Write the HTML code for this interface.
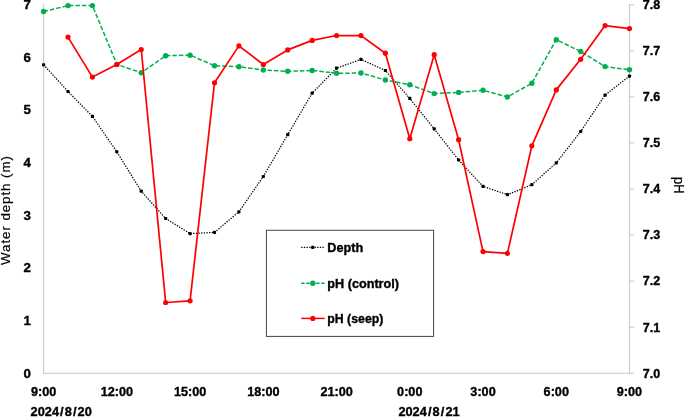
<!DOCTYPE html>
<html><head><meta charset="utf-8"><title>Chart</title>
<style>
html,body{margin:0;padding:0;background:#fff;}
body{width:685px;height:417px;position:relative;overflow:hidden;font-family:"Liberation Sans",sans-serif;}
</style></head><body>
<svg width="685" height="417" viewBox="0 0 685 417" style="position:absolute;left:0;top:0;will-change:transform">
<g stroke="#CACACA" stroke-width="1.1" fill="none">
<line x1="43.6" y1="4.3" x2="43.6" y2="373.8"/>
<line x1="43.1" y1="373.3" x2="630.0" y2="373.3"/>
<line x1="629.5" y1="4.3" x2="629.5" y2="373.8"/>
<line x1="629.5" y1="4.80" x2="634" y2="4.80"/>
<line x1="629.5" y1="50.86" x2="634" y2="50.86"/>
<line x1="629.5" y1="96.92" x2="634" y2="96.92"/>
<line x1="629.5" y1="142.99" x2="634" y2="142.99"/>
<line x1="629.5" y1="189.05" x2="634" y2="189.05"/>
<line x1="629.5" y1="235.11" x2="634" y2="235.11"/>
<line x1="629.5" y1="281.18" x2="634" y2="281.18"/>
<line x1="629.5" y1="327.24" x2="634" y2="327.24"/>
<line x1="629.5" y1="373.30" x2="634" y2="373.30"/>
</g>
<polyline points="43.60,64.80 68.01,91.50 92.42,116.40 116.84,151.80 141.25,191.20 165.66,218.50 190.07,233.60 214.49,232.40 238.90,211.80 263.31,176.50 287.72,134.70 312.14,93.20 336.55,68.20 360.96,59.40 385.38,70.50 409.79,98.40 434.20,128.90 458.61,160.00 483.02,186.40 507.44,194.70 531.85,184.70 556.26,162.90 580.67,131.50 605.09,95.10 629.50,76.10" fill="none" stroke="#000" stroke-width="1.25" stroke-dasharray="1.33 1.33"/>
<rect x="42.00" y="63.20" width="3.2" height="3.2" rx="0.8" fill="#000"/>
<rect x="66.41" y="89.90" width="3.2" height="3.2" rx="0.8" fill="#000"/>
<rect x="90.83" y="114.80" width="3.2" height="3.2" rx="0.8" fill="#000"/>
<rect x="115.24" y="150.20" width="3.2" height="3.2" rx="0.8" fill="#000"/>
<rect x="139.65" y="189.60" width="3.2" height="3.2" rx="0.8" fill="#000"/>
<rect x="164.06" y="216.90" width="3.2" height="3.2" rx="0.8" fill="#000"/>
<rect x="188.47" y="232.00" width="3.2" height="3.2" rx="0.8" fill="#000"/>
<rect x="212.89" y="230.80" width="3.2" height="3.2" rx="0.8" fill="#000"/>
<rect x="237.30" y="210.20" width="3.2" height="3.2" rx="0.8" fill="#000"/>
<rect x="261.71" y="174.90" width="3.2" height="3.2" rx="0.8" fill="#000"/>
<rect x="286.12" y="133.10" width="3.2" height="3.2" rx="0.8" fill="#000"/>
<rect x="310.54" y="91.60" width="3.2" height="3.2" rx="0.8" fill="#000"/>
<rect x="334.95" y="66.60" width="3.2" height="3.2" rx="0.8" fill="#000"/>
<rect x="359.36" y="57.80" width="3.2" height="3.2" rx="0.8" fill="#000"/>
<rect x="383.77" y="68.90" width="3.2" height="3.2" rx="0.8" fill="#000"/>
<rect x="408.19" y="96.80" width="3.2" height="3.2" rx="0.8" fill="#000"/>
<rect x="432.60" y="127.30" width="3.2" height="3.2" rx="0.8" fill="#000"/>
<rect x="457.01" y="158.40" width="3.2" height="3.2" rx="0.8" fill="#000"/>
<rect x="481.42" y="184.80" width="3.2" height="3.2" rx="0.8" fill="#000"/>
<rect x="505.84" y="193.10" width="3.2" height="3.2" rx="0.8" fill="#000"/>
<rect x="530.25" y="183.10" width="3.2" height="3.2" rx="0.8" fill="#000"/>
<rect x="554.66" y="161.30" width="3.2" height="3.2" rx="0.8" fill="#000"/>
<rect x="579.07" y="129.90" width="3.2" height="3.2" rx="0.8" fill="#000"/>
<rect x="603.49" y="93.50" width="3.2" height="3.2" rx="0.8" fill="#000"/>
<rect x="627.90" y="74.50" width="3.2" height="3.2" rx="0.8" fill="#000"/>
<polyline points="43.60,11.50 68.01,5.60 92.42,5.60 116.84,64.40 141.25,72.80 165.66,55.70 190.07,55.20 214.49,65.70 238.90,66.70 263.31,70.00 287.72,71.30 312.14,70.50 336.55,73.30 360.96,73.00 385.38,80.00 409.79,84.80 434.20,93.60 458.61,92.40 483.02,90.30 507.44,97.00 531.85,83.20 556.26,39.70 580.67,51.50 605.09,66.60 629.50,69.80" fill="none" stroke="#00B050" stroke-width="1.5" stroke-dasharray="4.5 2" stroke-linejoin="round"/>
<circle cx="43.60" cy="11.50" r="2.7" fill="#00B050"/>
<circle cx="68.01" cy="5.60" r="2.7" fill="#00B050"/>
<circle cx="92.42" cy="5.60" r="2.7" fill="#00B050"/>
<circle cx="116.84" cy="64.40" r="2.7" fill="#00B050"/>
<circle cx="141.25" cy="72.80" r="2.7" fill="#00B050"/>
<circle cx="165.66" cy="55.70" r="2.7" fill="#00B050"/>
<circle cx="190.07" cy="55.20" r="2.7" fill="#00B050"/>
<circle cx="214.49" cy="65.70" r="2.7" fill="#00B050"/>
<circle cx="238.90" cy="66.70" r="2.7" fill="#00B050"/>
<circle cx="263.31" cy="70.00" r="2.7" fill="#00B050"/>
<circle cx="287.72" cy="71.30" r="2.7" fill="#00B050"/>
<circle cx="312.14" cy="70.50" r="2.7" fill="#00B050"/>
<circle cx="336.55" cy="73.30" r="2.7" fill="#00B050"/>
<circle cx="360.96" cy="73.00" r="2.7" fill="#00B050"/>
<circle cx="385.38" cy="80.00" r="2.7" fill="#00B050"/>
<circle cx="409.79" cy="84.80" r="2.7" fill="#00B050"/>
<circle cx="434.20" cy="93.60" r="2.7" fill="#00B050"/>
<circle cx="458.61" cy="92.40" r="2.7" fill="#00B050"/>
<circle cx="483.02" cy="90.30" r="2.7" fill="#00B050"/>
<circle cx="507.44" cy="97.00" r="2.7" fill="#00B050"/>
<circle cx="531.85" cy="83.20" r="2.7" fill="#00B050"/>
<circle cx="556.26" cy="39.70" r="2.7" fill="#00B050"/>
<circle cx="580.67" cy="51.50" r="2.7" fill="#00B050"/>
<circle cx="605.09" cy="66.60" r="2.7" fill="#00B050"/>
<circle cx="629.50" cy="69.80" r="2.7" fill="#00B050"/>
<polyline points="68.01,37.10 92.42,77.10 116.84,64.50 141.25,49.50 165.66,302.50 190.07,300.80 214.49,82.80 238.90,45.90 263.31,64.50 287.72,49.90 312.14,40.40 336.55,35.50 360.96,35.60 385.38,53.20 409.79,138.70 434.20,54.70 458.61,139.70 483.02,251.60 507.44,253.40 531.85,145.80 556.26,89.90 580.67,59.30 605.09,25.60 629.50,28.60" fill="none" stroke="#FF0000" stroke-width="1.7" stroke-linejoin="round"/>
<circle cx="68.01" cy="37.10" r="2.6" fill="#FF0000"/>
<circle cx="92.42" cy="77.10" r="2.6" fill="#FF0000"/>
<circle cx="116.84" cy="64.50" r="2.6" fill="#FF0000"/>
<circle cx="141.25" cy="49.50" r="2.6" fill="#FF0000"/>
<circle cx="165.66" cy="302.50" r="2.6" fill="#FF0000"/>
<circle cx="190.07" cy="300.80" r="2.6" fill="#FF0000"/>
<circle cx="214.49" cy="82.80" r="2.6" fill="#FF0000"/>
<circle cx="238.90" cy="45.90" r="2.6" fill="#FF0000"/>
<circle cx="263.31" cy="64.50" r="2.6" fill="#FF0000"/>
<circle cx="287.72" cy="49.90" r="2.6" fill="#FF0000"/>
<circle cx="312.14" cy="40.40" r="2.6" fill="#FF0000"/>
<circle cx="336.55" cy="35.50" r="2.6" fill="#FF0000"/>
<circle cx="360.96" cy="35.60" r="2.6" fill="#FF0000"/>
<circle cx="385.38" cy="53.20" r="2.6" fill="#FF0000"/>
<circle cx="409.79" cy="138.70" r="2.6" fill="#FF0000"/>
<circle cx="434.20" cy="54.70" r="2.6" fill="#FF0000"/>
<circle cx="458.61" cy="139.70" r="2.6" fill="#FF0000"/>
<circle cx="483.02" cy="251.60" r="2.6" fill="#FF0000"/>
<circle cx="507.44" cy="253.40" r="2.6" fill="#FF0000"/>
<circle cx="531.85" cy="145.80" r="2.6" fill="#FF0000"/>
<circle cx="556.26" cy="89.90" r="2.6" fill="#FF0000"/>
<circle cx="580.67" cy="59.30" r="2.6" fill="#FF0000"/>
<circle cx="605.09" cy="25.60" r="2.6" fill="#FF0000"/>
<circle cx="629.50" cy="28.60" r="2.6" fill="#FF0000"/>
<rect x="266.4" y="230.25" width="167.2" height="106.15" fill="#fff" stroke="#444" stroke-width="1"/>
<line x1="301.2" y1="247.4" x2="324.2" y2="247.4" stroke="#000" stroke-width="1.33" stroke-dasharray="1.33 1.33"/>
<rect x="311.1" y="245.8" width="3.2" height="3.2" rx="0.8" fill="#000"/>
<line x1="301.2" y1="283.2" x2="324.7" y2="283.2" stroke="#00B050" stroke-width="1.4" stroke-dasharray="3.4 1.6"/>
<circle cx="312.8" cy="283.2" r="2.7" fill="#00B050"/>
<line x1="301.2" y1="318.4" x2="324.7" y2="318.4" stroke="#FF0000" stroke-width="1.5"/>
<circle cx="312.8" cy="318.4" r="2.6" fill="#FF0000"/>
<g font-family="'Liberation Sans', sans-serif" font-weight="bold" font-size="12.3px" fill="#000" stroke="#000" stroke-width="0.35">
<text transform="translate(327.30,251.70) scale(1.03,1)" text-anchor="start" >Depth</text>
<text transform="translate(327.30,287.50) scale(1.03,1)" text-anchor="start" >pH (control)</text>
<text transform="translate(327.30,322.60) scale(1.0,1)" text-anchor="start" >pH (seep)</text>
<text transform="translate(30.90,377.60) scale(1.08,1)" text-anchor="end" >0</text>
<text transform="translate(30.90,324.96) scale(1.08,1)" text-anchor="end" >1</text>
<text transform="translate(30.90,272.31) scale(1.08,1)" text-anchor="end" >2</text>
<text transform="translate(30.90,219.67) scale(1.08,1)" text-anchor="end" >3</text>
<text transform="translate(30.90,167.03) scale(1.08,1)" text-anchor="end" >4</text>
<text transform="translate(30.90,114.39) scale(1.08,1)" text-anchor="end" >5</text>
<text transform="translate(30.90,61.74) scale(1.08,1)" text-anchor="end" >6</text>
<text transform="translate(30.90,9.10) scale(1.08,1)" text-anchor="end" >7</text>
<text transform="translate(642.70,377.60) scale(1.02,1)" text-anchor="start" >7.0</text>
<text transform="translate(642.70,331.54) scale(1.02,1)" text-anchor="start" >7.1</text>
<text transform="translate(642.70,285.48) scale(1.02,1)" text-anchor="start" >7.2</text>
<text transform="translate(642.70,239.41) scale(1.02,1)" text-anchor="start" >7.3</text>
<text transform="translate(642.70,193.35) scale(1.02,1)" text-anchor="start" >7.4</text>
<text transform="translate(642.70,147.29) scale(1.02,1)" text-anchor="start" >7.5</text>
<text transform="translate(642.70,101.23) scale(1.02,1)" text-anchor="start" >7.6</text>
<text transform="translate(642.70,55.16) scale(1.02,1)" text-anchor="start" >7.7</text>
<text transform="translate(642.70,9.10) scale(1.02,1)" text-anchor="start" >7.8</text>
<text transform="translate(43.60,396.10) scale(1.03,1)" text-anchor="middle" >9:00</text>
<text transform="translate(116.84,396.10) scale(1.03,1)" text-anchor="middle" >12:00</text>
<text transform="translate(190.07,396.10) scale(1.03,1)" text-anchor="middle" >15:00</text>
<text transform="translate(263.31,396.10) scale(1.03,1)" text-anchor="middle" >18:00</text>
<text transform="translate(336.55,396.10) scale(1.03,1)" text-anchor="middle" >21:00</text>
<text transform="translate(409.79,396.10) scale(1.03,1)" text-anchor="middle" >0:00</text>
<text transform="translate(483.02,396.10) scale(1.03,1)" text-anchor="middle" >3:00</text>
<text transform="translate(556.26,396.10) scale(1.03,1)" text-anchor="middle" >6:00</text>
<text transform="translate(629.50,396.10) scale(1.03,1)" text-anchor="middle" >9:00</text>
<text transform="translate(30.60,415.60) scale(1.04,1)" text-anchor="start" >2024<tspan dx="1.05">/</tspan><tspan dx="1.05">8</tspan><tspan dx="1.05">/</tspan><tspan dx="1.05">20</tspan></text>
<text transform="translate(398.40,415.60) scale(1.04,1)" text-anchor="start" >2024<tspan dx="1.05">/</tspan><tspan dx="1.05">8</tspan><tspan dx="1.05">/</tspan><tspan dx="1.05">21</tspan></text>
</g>
<g font-family="'Liberation Sans', sans-serif" font-size="13px" fill="#000" stroke="#000" stroke-width="0.2">
<text transform="translate(10.0,210.5) rotate(-90)" text-anchor="middle" font-size="13.4px" textLength="109" lengthAdjust="spacing">Water depth (m)</text>
<text transform="translate(673.9,185.3) rotate(90) scale(0.93,1)" text-anchor="middle" font-size="14px">pH</text>
</g>
</svg>
</body></html>
